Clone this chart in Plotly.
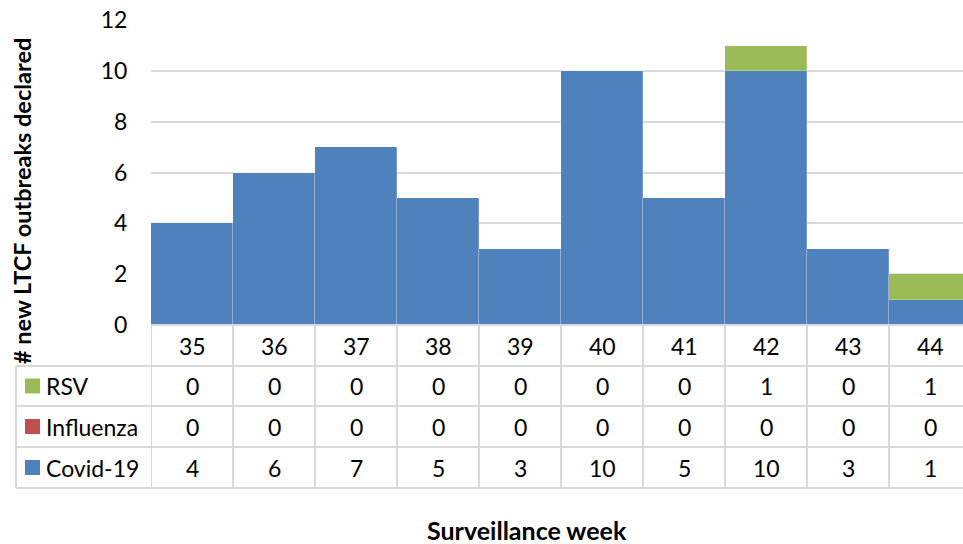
import plotly.graph_objects as go

weeks = ["35", "36", "37", "38", "39", "40", "41", "42", "43", "44"]
covid = [4, 6, 7, 5, 3, 10, 5, 10, 3, 1]
influenza = [0, 0, 0, 0, 0, 0, 0, 0, 0, 0]
rsv = [0, 0, 0, 0, 0, 0, 0, 1, 0, 1]
y_ticks = [0, 2, 4, 6, 8, 10, 12]

C_COVID = "#4F81BD"
C_FLU = "#C0504D"
C_RSV = "#9BBB59"
GRID = "#D9D9D9"
FONT = "Lato"

OFF = 0  # body margin removed via post_script
W, H = 963 - OFF, 544 - OFF
L, R, T = 151 - OFF, 0, 20 - OFF
B = H - (325 - OFF)
PW = W - L - R
PH = H - T - B

def px_x(px):
    return (px - OFF - L) / PW

def px_y(py):
    return (H - B - (py - OFF)) / PH

xs = list(range(len(weeks)))
n = len(weeks)
col_w = 82.0

fig = go.Figure()
for name, vals, col in [("Covid-19", covid, C_COVID), ("Influenza", influenza, C_FLU), ("RSV", rsv, C_RSV)]:
    fig.add_trace(go.Bar(x=xs, y=vals, name=name,
                         marker=dict(color=col, line=dict(color="rgba(255,255,255,0.35)", width=0.6)),
                         hoverinfo="name+y"))

shapes = []
annotations = []
row_edges = [325, 366, 406, 447, 488]
for i, py in enumerate(row_edges):
    x0 = px_x(151) if i == 0 else px_x(16)
    shapes.append(dict(type="line", xref="paper", yref="paper", x0=x0, x1=1.02, y0=px_y(py), y1=px_y(py),
                       line=dict(color=GRID, width=2)))
for k in range(n + 1):
    shapes.append(dict(type="line", xref="x", yref="paper", x0=k - 0.5, x1=k - 0.5, y0=px_y(325), y1=px_y(488),
                       line=dict(color=GRID, width=2)))
shapes.append(dict(type="line", xref="paper", yref="paper", x0=px_x(16), x1=px_x(16), y0=px_y(366), y1=px_y(488),
                   line=dict(color=GRID, width=2)))

TF = dict(family=FONT, size=23, color="#000000")
rows = [("RSV", rsv, C_RSV), ("Influenza", influenza, C_FLU), ("Covid-19", covid, C_COVID)]
for k, w in enumerate(weeks):
    annotations.append(dict(x=k, y=px_y((325 + 366) / 2), xref="x", yref="paper", text=w, showarrow=False,
                            font=TF, xanchor="center", yanchor="middle"))
for r, (name, vals, col) in enumerate(rows):
    yc = (row_edges[r + 1] + row_edges[r + 2]) / 2
    for k, v in enumerate(vals):
        annotations.append(dict(x=k, y=px_y(yc), xref="x", yref="paper", text=str(v), showarrow=False,
                                font=TF, xanchor="center", yanchor="middle"))
    shapes.append(dict(type="rect", xref="paper", yref="paper", x0=px_x(25), x1=px_x(40),
                       y0=px_y(yc - 7.5), y1=px_y(yc + 7.5), fillcolor=col, line=dict(width=0)))
    annotations.append(dict(x=px_x(44), y=px_y(yc), xref="paper", yref="paper", text=name, showarrow=False,
                            font=TF, xanchor="left", yanchor="middle"))

annotations.append(dict(x=px_x(22), y=px_y(201), xref="paper", yref="paper", text="<b># new LTCF outbreaks declared</b>",
                        textangle=-90, showarrow=False, font=dict(family=FONT, size=23.5, color="#000000"),
                        xanchor="center", yanchor="middle", borderpad=0))
annotations.append(dict(x=px_x(527), y=px_y(530), xref="paper", yref="paper", text="<b>Surveillance week</b>",
                        showarrow=False, font=dict(family=FONT, size=25, color="#000000"),
                        xanchor="center", yanchor="middle"))

fig.update_layout(
    width=W, height=H,
    margin=dict(l=L, r=R, t=T, b=B, autoexpand=False),
    barmode="stack", bargap=0,
    plot_bgcolor="white", paper_bgcolor="white",
    showlegend=False,
    xaxis=dict(range=[-0.5, n - 0.5 - (971 - 963) / col_w], showticklabels=False, showgrid=False,
               zeroline=False, showline=False, ticks=""),
    yaxis=dict(range=[0, 12.01], tickvals=y_ticks, showgrid=True, gridcolor=GRID, gridwidth=1.5, zeroline=False,
               showline=False, ticks="outside", ticklen=18, tickcolor="rgba(0,0,0,0)",
               ticklabeloverflow="allow",
               tickfont=dict(family=FONT, size=23, color="#000000")),
    shapes=shapes, annotations=annotations,
)

fig.write_html("out.html", config={"displayModeBar": False},
               post_script="document.body.style.margin='0';document.body.style.overflow='hidden';")
